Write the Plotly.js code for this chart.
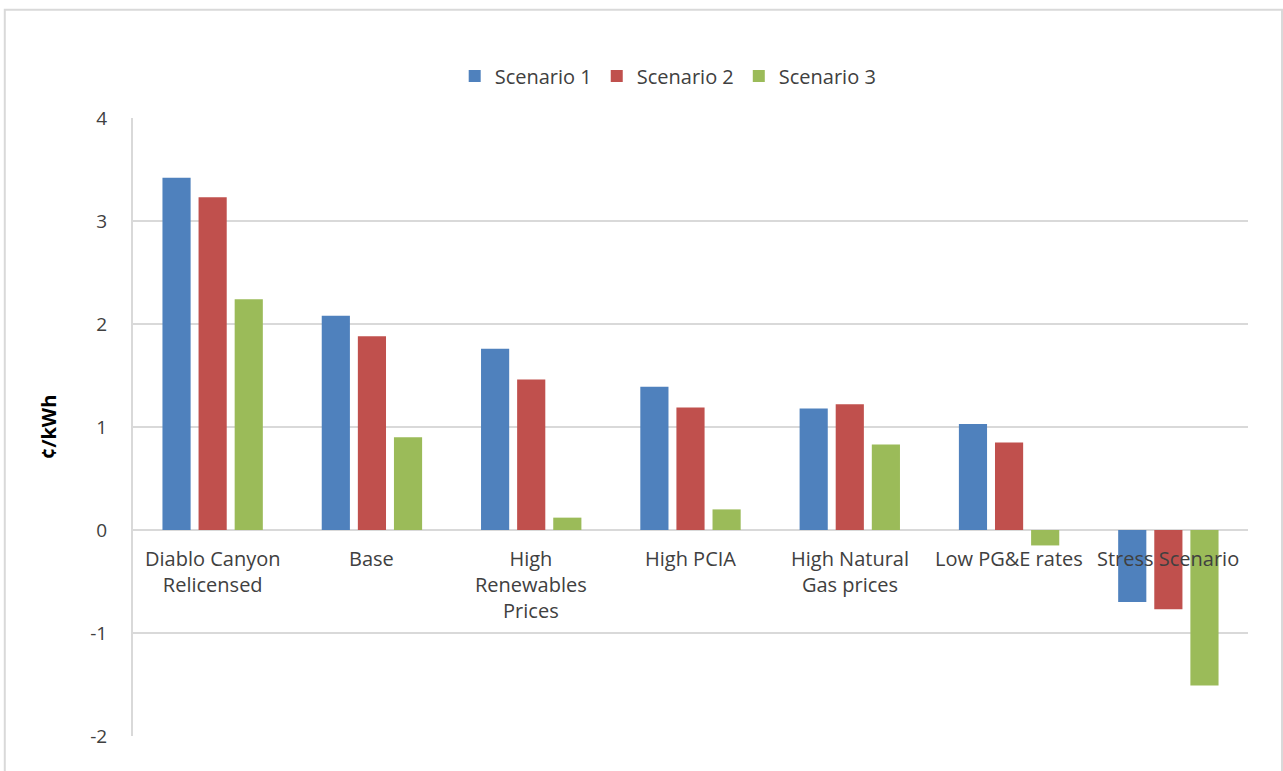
<!DOCTYPE html>
<html>
<head>
<meta charset="utf-8">
<script src="https://cdn.plot.ly/plotly-3.0.1.min.js"></script>
<style>html,body{margin:0;padding:0;background:#fff;}#chart{width:1283px;height:771px;}</style>
</head>
<body>
<div id="chart"></div>
<script>
const categories = ["Diablo Canyon Relicensed", "Base", "High Renewables Prices", "High PCIA", "High Natural Gas prices", "Low PG&E rates", "Stress Scenario"];
const categoryLabels = ["Diablo Canyon<br>Relicensed", "Base", "High<br>Renewables<br>Prices", "High PCIA", "High Natural<br>Gas prices", "Low PG&E rates", "Stress Scenario"];
const seriesNames = ["Scenario 1", "Scenario 2", "Scenario 3"];
const scenario1 = [3.42, 2.08, 1.76, 1.39, 1.18, 1.03, -0.70];
const scenario2 = [3.23, 1.88, 1.46, 1.19, 1.22, 0.85, -0.77];
const scenario3 = [2.24, 0.90, 0.12, 0.20, 0.83, -0.15, -1.51];
const yTicks = [-2, -1, 0, 1, 2, 3, 4];

const colors = ["#4f81bd", "#c0504d", "#9bbb59"];
const values = [scenario1, scenario2, scenario3];
const font = "Open Sans, Noto Sans, sans-serif";

const traces = values.map((v, i) => ({
  type: "bar",
  name: seriesNames[i],
  x: categories,
  y: v,
  marker: {color: colors[i]},
  hoverinfo: "x+y+name"
}));

const annotations = categories.map((c, i) => ({
  x: c, y: 0, xref: "x", yref: "y",
  text: categoryLabels[i],
  showarrow: false,
  yanchor: "top", xanchor: "center",
  yshift: -13,
  align: "center",
  font: {family: font, size: 20, color: "#404040"}
}));

const layout = {
  width: 1283, height: 771,
  margin: {l: 133, r: 35, t: 118, b: 35},
  paper_bgcolor: "#ffffff",
  plot_bgcolor: "#ffffff",
  barmode: "group",
  bargap: 0.32,
  bargroupgap: 0.22,
  showlegend: true,
  legend: {
    orientation: "h", x: 0.48, xanchor: "center", y: 1.068, yanchor: "middle",
    font: {family: font, size: 20, color: "#404040"},
    itemwidth: 30, traceorder: "normal"
  },
  xaxis: {
    showticklabels: false, ticks: "", showgrid: false, zeroline: false,
    showline: false
  },
  yaxis: {
    range: [-2, 4], tickvals: yTicks, ticktext: yTicks.map(String),
    showgrid: true, gridcolor: "#d9d9d9", gridwidth: 2,
    zeroline: true, zerolinecolor: "#d9d9d9", zerolinewidth: 2,
    showline: true, linecolor: "#d9d9d9", linewidth: 2,
    ticks: "", ticklabelstandoff: 20,
    tickfont: {family: font, size: 19, color: "#404040"},
    title: {text: "¢/kWh", font: {family: font, size: 20, color: "#000000", weight: "bold"}, standoff: 28}
  },
  annotations: annotations,
  shapes: [{
    type: "rect", xref: "paper", yref: "paper",
    x0: -0.115, x1: 1.0305, y0: -0.1, y1: 1.175,
    line: {color: "#d9d9d9", width: 2}, fillcolor: "rgba(0,0,0,0)", layer: "below"
  }]
};

Plotly.newPlot("chart", traces, layout, {displayModeBar: false, staticPlot: true});
</script>
</body>
</html>
